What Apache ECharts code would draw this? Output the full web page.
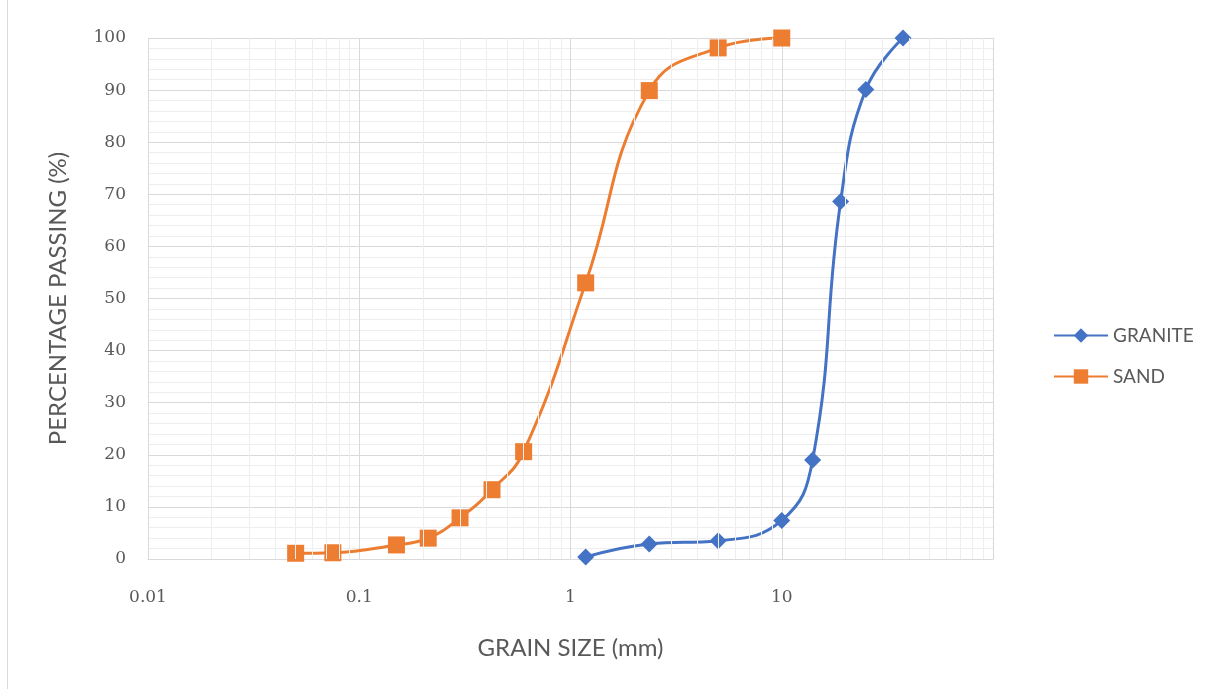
<!DOCTYPE html>
<html>
<head>
<meta charset="utf-8">
<script src="https://cdn.jsdelivr.net/npm/echarts@6/dist/echarts.min.js"></script>
<style>
html,body{margin:0;padding:0;background:#fff;}
#chart{width:1209px;height:689px;}
</style>
</head>
<body>
<div id="chart"></div>
<script>
// ---- data ----
const graniteSize = [1.18, 2.36, 5, 10, 14, 19, 25, 37.5];
const granitePassing = [0.4, 2.9, 3.5, 7.4, 19.0, 68.6, 90.1, 100];
const sandSize = [0.05, 0.075, 0.15, 0.212, 0.3, 0.425, 0.6, 1.18, 2.36, 5, 10];
const sandPassing = [1.1, 1.2, 2.7, 4.0, 7.9, 13.3, 20.6, 53.0, 89.9, 98.1, 100];
const xMinorTicks = [0.02,0.03,0.04,0.05,0.06,0.07,0.08,0.09,
                     0.2,0.3,0.4,0.5,0.6,0.7,0.8,0.9,
                     2,3,4,5,6,7,8,9,
                     20,30,40,50,60,70,80,90];
const xTickLabels = {0.01:'0.01', 0.1:'0.1', 1:'1', 10:'10', 100:''};

const granite = graniteSize.map((x, i) => [x, granitePassing[i]]);
const sand = sandSize.map((x, i) => [x, sandPassing[i]]);

const chart = echarts.init(document.getElementById('chart'));
const titleFont = {fontFamily: 'Lato', fontSize: 24, color: '#595959'};
chart.setOption({
  animation: false,
  backgroundColor: '#fff',
  graphic: [{
    type: 'line', shape: {x1: 7.5, y1: 0, x2: 7.5, y2: 689},
    style: {stroke: '#d9d9d9', lineWidth: 1}, silent: true
  }],
  grid: {left: 148, right: 216, top: 38, bottom: 130},
  legend: {
    orient: 'vertical', left: 1048, top: 321, itemWidth: 54, itemHeight: 18,
    itemGap: 22, textStyle: {fontFamily: 'Lato', fontSize: 19, color: '#595959'},
    data: ['GRANITE', 'SAND']
  },
  xAxis: {
    type: 'log', logBase: 10, min: 0.01, max: 100,
    name: 'GRAIN SIZE (mm)', nameLocation: 'middle', nameGap: 77,
    nameTextStyle: titleFont,
    axisLine: {show: true, lineStyle: {color: '#d9d9d9', width: 1}},
    axisTick: {show: false},
    axisLabel: {
      margin: 30, fontFamily: 'DejaVu Serif', fontSize: 17, color: '#595959',
      formatter: v => { const k = Number(v.toPrecision(3)); return xTickLabels[k] !== undefined ? xTickLabels[k] : ''; }
    },
    splitLine: {show: true, lineStyle: {color: '#d9d9d9', width: 1}}
  },
  yAxis: {
    type: 'value', min: 0, max: 100, interval: 10,
    name: 'PERCENTAGE PASSING (%)', nameLocation: 'middle', nameGap: 78,
    nameTextStyle: titleFont,
    axisLine: {show: false}, axisTick: {show: false},
    axisLabel: {margin: 22, fontFamily: 'DejaVu Serif', fontSize: 17, color: '#595959'},
    splitLine: {show: true, lineStyle: {color: '#d9d9d9', width: 1}},
    minorTick: {show: false, splitNumber: 5},
    minorSplitLine: {show: true, lineStyle: {color: '#eeeeee', width: 1}}
  },
  series: [
    {
      name: 'minor', type: 'line', data: [], z: 0, silent: true,
      markLine: {
        silent: true, symbol: 'none', label: {show: false},
        lineStyle: {color: '#eeeeee', width: 1, type: 'solid'},
        data: xMinorTicks.map(v => ({xAxis: v}))
      }
    },
    {
      name: 'GRANITE', type: 'line', data: granite, smooth: 0.45,
      symbol: 'diamond', symbolSize: 17,
      itemStyle: {color: '#4472C4', borderWidth: 0}, lineStyle: {color: '#4472C4', width: 3}, z: 3
    },
    {
      name: 'SAND', type: 'line', data: sand, smooth: 0.45,
      symbol: 'rect', symbolSize: 17,
      itemStyle: {color: '#ED7D31', borderWidth: 0}, lineStyle: {color: '#ED7D31', width: 3}, z: 3
    }
  ]
});
</script>
</body>
</html>
